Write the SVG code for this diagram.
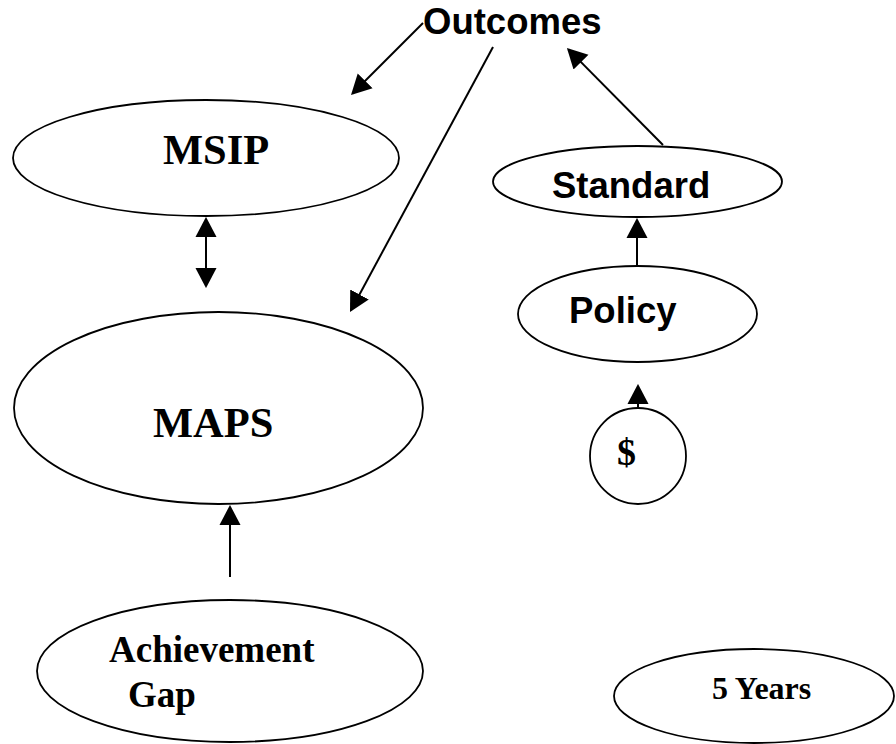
<svg xmlns="http://www.w3.org/2000/svg" width="896" height="744" viewBox="0 0 896 744">
<style>
.node{fill:#fff;stroke:#000;stroke-width:1.8}
.conn{stroke:#000;stroke-width:2;fill:none}
.sans{font-family:"Liberation Sans",Arial,sans-serif;font-weight:bold;fill:#000}
.serif{font-family:"Liberation Serif","Times New Roman",serif;font-weight:bold;fill:#000}
</style>
<defs>
<marker id="ah" markerUnits="userSpaceOnUse" markerWidth="20" markerHeight="22" viewBox="0 0 19 20" refX="17" refY="10" orient="auto-start-reverse">
<path d="M0,0 L19,10 L0,20 z" fill="#000"/>
</marker>
</defs>
<rect width="896" height="744" fill="#fff"/>
<g id="outcomes"><text class="sans" x="423" y="34" font-size="36.5">Outcomes</text></g>
<g id="msip"><ellipse class="node" cx="206" cy="158" rx="193" ry="58"/><text class="serif" x="163" y="164" font-size="42.5">MSIP</text></g>
<g id="maps"><ellipse class="node" cx="218.5" cy="408" rx="204.5" ry="96"/><text class="serif" x="153" y="437" font-size="42.5">MAPS</text></g>
<g id="standard"><ellipse class="node" cx="637.5" cy="181.5" rx="144.5" ry="35.5"/><text class="sans" x="552" y="198" font-size="36.5">Standard</text></g>
<g id="policy"><ellipse class="node" cx="637.5" cy="314" rx="119.5" ry="48"/><text class="sans" x="569" y="323" font-size="36.5">Policy</text></g>
<g id="money"><circle class="node" cx="638" cy="456" r="48"/><text class="serif" x="617" y="465" font-size="38">$</text></g>
<g id="achievement-gap"><ellipse class="node" cx="230" cy="671" rx="193" ry="71"/><text class="serif" x="109" y="662" font-size="37">Achievement</text><text class="serif" x="128" y="707" font-size="37">Gap</text></g>
<g id="five-years"><ellipse class="node" cx="754" cy="696" rx="140" ry="47"/><text class="serif" x="712" y="699" font-size="32">5 Years</text></g>
<g id="connectors">
<line class="conn" x1="423" y1="23" x2="352.5" y2="93.5" marker-end="url(#ah)"/>
<line class="conn" x1="493" y1="47" x2="351" y2="310.2" marker-end="url(#ah)"/>
<line class="conn" x1="663" y1="145" x2="568.4" y2="49.4" marker-end="url(#ah)"/>
<line class="conn" x1="206" y1="219" x2="206" y2="286" marker-start="url(#ah)" marker-end="url(#ah)"/>
<line class="conn" x1="637" y1="265" x2="637" y2="220" marker-end="url(#ah)"/>
<line class="conn" x1="638" y1="408" x2="638" y2="386" marker-end="url(#ah)"/>
<line class="conn" x1="230" y1="577" x2="230" y2="507" marker-end="url(#ah)"/>
</g>
</svg>
